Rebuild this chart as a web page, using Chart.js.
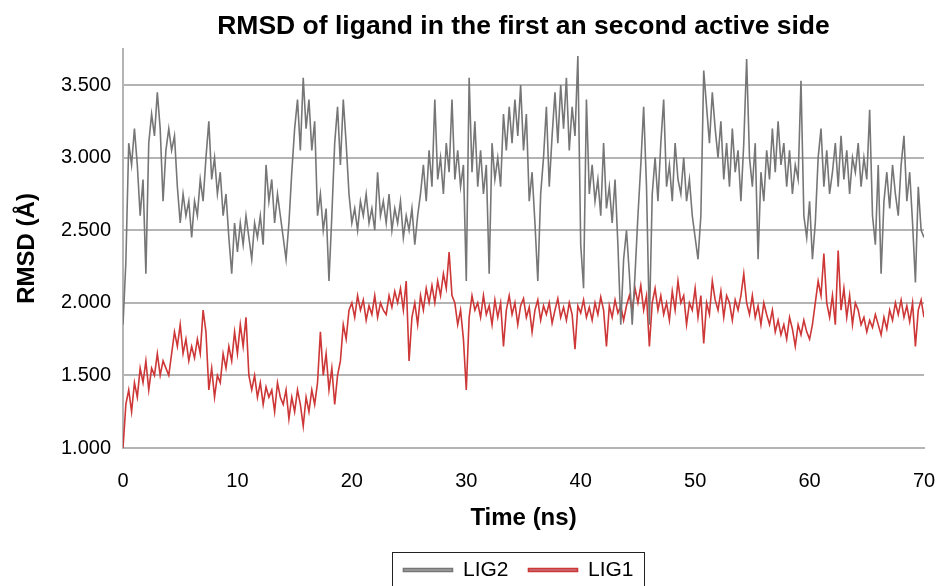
<!DOCTYPE html>
<html>
<head>
<meta charset="utf-8">
<title>RMSD of ligand</title>
<script src="https://cdn.jsdelivr.net/npm/chart.js@4/dist/chart.umd.min.js"></script>
<style>
    html, body { margin: 0; padding: 0; background: #fff; }
    #wrap { width: 940px; height: 586px; }
</style>
</head>
<body>
<div id="wrap"><canvas id="rmsdChart" width="940" height="586"></canvas></div>
<script>
// sampled every 0.25 ns, 0..70 ns
const timeStepNs = 0.25;
const xTicks = [0, 10, 20, 30, 40, 50, 60, 70];
const yTicks = [1.0, 1.5, 2.0, 2.5, 3.0, 3.5];

const lig2 = [
    1.85, 2.28, 3.10, 2.95,  3.20, 2.95, 2.60, 2.85,  2.20, 3.10, 3.30, 3.15,  3.45, 3.20, 2.70, 3.05,
    3.20, 3.05, 3.15, 2.80,  2.55, 2.75, 2.60, 2.70,  2.45, 2.70, 2.60, 2.85,  2.70, 3.00, 3.25, 2.85,
    3.00, 2.75, 2.90, 2.60,  2.75, 2.45, 2.20, 2.55,  2.35, 2.55, 2.40, 2.60,  2.45, 2.30, 2.55, 2.45,
    2.60, 2.40, 2.95, 2.70,  2.85, 2.55, 2.75, 2.60,  2.45, 2.30, 2.55, 2.90,  3.20, 3.40, 3.05, 3.55,
    3.20, 3.40, 3.05, 3.25,  2.60, 2.75, 2.50, 2.65,  2.15, 2.60, 3.10, 3.35,  2.95, 3.40, 3.10, 2.75,
    2.55, 2.65, 2.50, 2.70,  2.60, 2.75, 2.55, 2.65,  2.50, 2.90, 2.60, 2.70,  2.55, 2.75, 2.50, 2.65,
    2.55, 2.70, 2.45, 2.60,  2.50, 2.65, 2.40, 2.60,  2.75, 2.95, 2.70, 3.05,  2.80, 3.40, 2.85, 3.00,
    2.75, 3.10, 2.90, 3.40,  2.85, 3.05, 2.80, 2.95,  2.15, 3.55, 2.90, 3.25,  2.80, 3.05, 2.75, 2.95,
    2.20, 3.10, 2.85, 3.00,  2.80, 3.30, 3.05, 3.35,  3.10, 3.40, 3.15, 3.50,  3.05, 3.30, 2.70, 2.90,
    2.55, 2.15, 2.75, 3.00,  3.35, 2.80, 3.15, 3.45,  3.10, 3.50, 3.20, 3.55,  3.05, 3.35, 3.15, 3.70,
    2.40, 2.10, 3.40, 2.75,  2.95, 2.70, 2.85, 2.60,  3.10, 2.65, 2.80, 2.55,  2.85, 2.40, 1.85, 2.30,
    2.50, 2.20, 1.85, 2.20,  2.60, 2.95, 3.35, 2.80,  1.85, 2.75, 3.00, 2.70,  3.10, 3.40, 2.80, 2.95,
    2.70, 3.10, 2.85, 2.75,  3.00, 2.70, 2.85, 2.60,  2.45, 2.30, 2.60, 3.60,  3.35, 3.10, 3.45, 3.20,
    3.00, 3.25, 2.85, 3.10,  2.80, 3.20, 2.90, 3.05,  2.70, 3.10, 3.68, 3.00,  2.80, 3.10, 2.30, 2.90,
    2.70, 3.05, 2.85, 3.20,  2.90, 3.25, 2.95, 3.10,  2.80, 3.05, 2.75, 2.95,  2.85, 3.53, 2.60, 2.45,
    2.70, 2.30, 2.55, 3.00,  3.20, 2.80, 3.05, 2.75,  2.90, 3.10, 2.80, 3.15,  2.85, 3.05, 2.75, 3.00,
    2.90, 3.10, 2.80, 3.00,  2.85, 3.33, 2.60, 2.40,  2.95, 2.20, 2.70, 2.90,  2.65, 2.95, 2.75, 2.60,
    2.95, 3.15, 2.70, 2.90,  2.55, 2.14, 2.80, 2.50,  2.45
];

const lig1 = [
    1.00, 1.30, 1.40, 1.25,  1.45, 1.35, 1.55, 1.45,  1.60, 1.40, 1.55, 1.50,  1.65, 1.50, 1.60, 1.55,
    1.50, 1.65, 1.80, 1.70,  1.85, 1.65, 1.75, 1.60,  1.70, 1.62, 1.75, 1.65,  1.95, 1.80, 1.40, 1.55,
    1.35, 1.50, 1.45, 1.65,  1.55, 1.70, 1.60, 1.80,  1.65, 1.85, 1.70, 1.90,  1.50, 1.40, 1.50, 1.35,
    1.45, 1.30, 1.42, 1.35,  1.40, 1.25, 1.45, 1.35,  1.30, 1.40, 1.20, 1.35,  1.25, 1.40, 1.30, 1.15,
    1.35, 1.25, 1.40, 1.30,  1.45, 1.80, 1.50, 1.65,  1.40, 1.55, 1.30, 1.50,  1.60, 1.85, 1.75, 1.95,
    2.00, 1.90, 2.05, 1.95,  2.02, 1.88, 1.98, 1.92,  2.05, 1.90, 2.00, 1.95,  1.92, 2.05, 1.97, 2.08,
    2.00, 2.10, 1.95, 2.15,  1.60, 1.90, 2.00, 1.85,  2.05, 1.95, 2.10, 2.00,  2.12, 2.00, 2.15, 2.05,
    2.20, 2.10, 2.35, 2.05,  2.00, 1.85, 1.95, 1.75,  1.40, 1.90, 2.05, 1.95,  2.00, 1.90, 2.05, 1.92,
    1.98, 1.85, 2.02, 1.90,  2.00, 1.70, 1.95, 2.05,  1.92, 2.00, 1.85, 1.98,  2.03, 1.90, 1.97, 1.80,
    1.95, 2.02, 1.88, 1.98,  1.92, 2.00, 1.86, 1.95,  2.03, 1.90, 1.97, 1.88,  2.00, 1.92, 1.68, 1.98,
    1.93, 2.02, 1.90, 1.97,  1.88, 2.00, 1.92, 2.04,  1.95, 1.70, 1.98, 1.90,  2.02, 1.93, 1.98, 1.88,
    1.98, 2.05, 1.95, 2.10,  2.00, 2.12, 1.95, 2.05,  1.70, 2.00, 2.10, 1.95,  2.05, 1.92, 2.00, 1.88,
    2.08, 1.95, 2.15, 2.00,  2.05, 1.85, 2.00, 1.95,  2.10, 1.90, 2.05, 1.72,  2.00, 1.92, 2.15, 2.02,
    1.95, 2.08, 1.90, 2.05,  2.00, 1.88, 2.02, 1.95,  2.05, 2.20, 2.00, 1.92,  2.05, 1.90, 1.98, 1.85,
    2.00, 1.92, 1.85, 1.95,  1.80, 1.88, 1.78, 1.85,  1.75, 1.90, 1.82, 1.70,  1.85, 1.78, 1.88, 1.80,
    1.75, 1.85, 2.00, 2.15,  2.05, 2.34, 2.00, 1.90,  2.05, 1.85, 2.36, 1.95,  2.10, 1.90, 2.05, 1.85,
    2.00, 1.95, 1.85, 1.90,  1.80, 1.88, 1.83, 1.92,  1.85, 1.78, 1.90, 1.82,  1.95, 1.88, 2.00, 1.92,
    2.02, 1.90, 1.98, 1.87,  2.00, 1.70, 1.95, 2.02,  1.90
];

const toPoints = arr => arr.map((v, i) => ({ x: i * timeStepNs, y: v }));

const FONT = 'Liberation Sans, Arial, sans-serif';
const GRID = '#b4b4b4';

// center title + legend on the plot area, draw the legend frame
const layoutFix = {
    id: 'layoutFix',
    afterLayout(chart) {
        const area = chart.chartArea;
        const t = chart.titleBlock;
        if (t) { t.left = area.left; t.right = area.right; }
        const lg = chart.legend;
        if (lg) {
            const h = lg.height;
            lg.left = area.left - 5;
            lg.right = area.right - 5;
            const pad = lg.options.labels.padding;
            lg.top = 570 - pad - 21 / 2;
            lg.bottom = lg.top + h;
        }
    },
    afterDraw(chart) {
        const lg = chart.legend;
        if (!lg || !lg.legendHitBoxes.length) return;
        const boxes = lg.legendHitBoxes;
        const l = Math.min(...boxes.map(b => b.left)) - 11;
        const r = Math.max(...boxes.map(b => b.left + b.width)) + 11;
        const ctx = chart.ctx;
        ctx.save();
        ctx.strokeStyle = '#222';
        ctx.lineWidth = 1;
        ctx.strokeRect(Math.round(l) + 0.5, 552.5, Math.round(r - l), 50);
        ctx.restore();
    }
};

new Chart(document.getElementById('rmsdChart').getContext('2d'), {
    type: 'line',
    data: {
        datasets: [
            {
                label: 'LIG2',
                data: toPoints(lig2),
                borderColor: 'rgb(118, 118, 118)',
                backgroundColor: 'rgb(160, 160, 160)',
                borderWidth: 1.6,
                pointRadius: 0,
                tension: 0
            },
            {
                label: 'LIG1',
                data: toPoints(lig1),
                borderColor: 'rgb(205, 55, 55)',
                backgroundColor: 'rgb(200, 110, 120)',
                borderWidth: 1.6,
                pointRadius: 0,
                tension: 0
            }
        ]
    },
    options: {
        responsive: false,
        animation: false,
        layout: { padding: { left: 0, right: 0, top: 0, bottom: 0 } },
        plugins: {
            title: {
                display: true,
                text: 'RMSD of ligand in the first an second active side',
                color: '#000',
                font: { family: FONT, size: 26.5, weight: 'bold' },
                padding: { top: 11, bottom: 6 }
            },
            legend: {
                position: 'bottom',
                labels: {
                    color: '#000',
                    font: { family: FONT, size: 21 },
                    boxWidth: 49,
                    boxHeight: 3,
                    padding: 20
                }
            },
            tooltip: { enabled: false }
        },
        scales: {
            x: {
                type: 'linear',
                min: 0,
                max: 70,
                afterBuildTicks: s => { s.ticks = xTicks.map(v => ({ value: v })); },
                afterFit: s => {
                    s.height = 87;
                    s.paddingLeft = 0;
                    s.paddingRight = 16;
                },
                ticks: {
                    color: '#000',
                    font: { family: FONT, size: 20 },
                    padding: 21,
                    maxRotation: 0
                },
                grid: { display: false, drawTicks: false },
                border: { display: true, color: GRID, width: 2 },
                title: {
                    display: true,
                    text: 'Time (ns)',
                    color: '#000',
                    font: { family: FONT, size: 24, weight: 'bold' },
                    padding: { top: 0, bottom: 2 }
                }
            },
            y: {
                min: 1.0,
                max: 3.75,
                afterBuildTicks: s => { s.ticks = yTicks.map(v => ({ value: v })); },
                afterFit: s => { s.width = 123; },
                ticks: {
                    color: '#000',
                    font: { family: FONT, size: 20 },
                    padding: 12,
                    callback: v => v.toFixed(3)
                },
                grid: { color: GRID, lineWidth: 2, drawTicks: false },
                border: { display: true, color: GRID, width: 2 },
                title: {
                    display: true,
                    text: 'RMSD (Å)',
                    color: '#000',
                    font: { family: FONT, size: 24, weight: 'bold' },
                    padding: { top: 13, bottom: 0 }
                }
            }
        }
    },
    plugins: [layoutFix]
});
</script>
</body>
</html>
